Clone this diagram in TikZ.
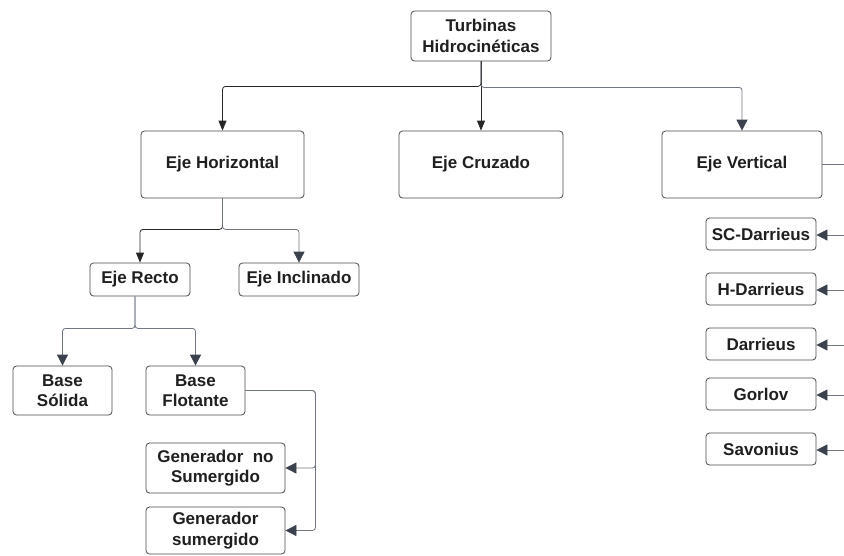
\documentclass[tikz,border=0pt]{standalone}
\usepackage{fontspec}
\setmainfont{Liberation Sans}
\usetikzlibrary{arrows.meta}
\definecolor{boxline}{HTML}{4A4A4A}
\definecolor{linegray}{HTML}{707680}
\definecolor{tipdark}{HTML}{3B424E}
\tikzset{
  box/.style={draw=boxline, line width=0.8pt, rounded corners=3.5pt, align=center,
    font=\fontsize{17}{20.5}\selectfont\bfseries, inner sep=0pt, text=black!88},
  blackconn/.style={draw=black!85, line width=0.8pt, rounded corners=3pt,
    -{Triangle[width=8pt,length=10pt]}},
  grayconn/.style={draw=linegray, line width=0.8pt, rounded corners=3pt,
    -{Triangle[width=11pt,length=11pt,color=tipdark]}},
  plainline/.style={draw=linegray, line width=0.8pt},
}
\begin{document}
\begin{tikzpicture}[x=1pt,y=-1pt]
\useasboundingbox (0,0) rectangle (844,555);
% nodes
\node[box, minimum width=140pt, minimum height=50pt] (T) at (481,36) {Turbinas\\Hidrocinéticas};
\node[box, minimum width=163pt, minimum height=67pt] (EH) at (222.5,164.5) {Eje Horizontal};
\node[box, minimum width=164pt, minimum height=67pt] (EC) at (481,164.5) {Eje Cruzado};
\node[box, minimum width=160pt, minimum height=67pt] (EV) at (742,164.5) {Eje Vertical};
\node[box, minimum width=100pt, minimum height=33pt] (ER) at (140,279.5) {Eje Recto};
\node[box, minimum width=120pt, minimum height=33pt] (EI) at (299,279.5) {Eje Inclinado};
\node[box, minimum width=99pt, minimum height=49pt] (BS) at (62.5,390.5) {Base\\Sólida};
\node[box, minimum width=99pt, minimum height=49pt] (BF) at (195.5,390.5) {Base\\Flotante};
\node[box, minimum width=139pt, minimum height=50pt] (GN) at (215.5,468) {Generador\ \ no\\Sumergido};
\node[box, minimum width=139pt, minimum height=47pt] (GS) at (215.5,530.5) {Generador\\sumergido};
\node[box, minimum width=110pt, minimum height=32pt] (SC) at (761,234) {SC-Darrieus};
\node[box, minimum width=110pt, minimum height=32pt] (HD) at (761,289) {H-Darrieus};
\node[box, minimum width=110pt, minimum height=32pt] (DA) at (761,344) {Darrieus};
\node[box, minimum width=110pt, minimum height=32pt] (GO) at (761,394) {Gorlov};
\node[box, minimum width=110pt, minimum height=32pt] (SA) at (761,449) {Savonius};
% free ends at the right edge
\coordinate (evR) at (844,164.5);
\coordinate (scR) at (844,235);
\coordinate (hdR) at (844,290);
\coordinate (daR) at (844,345);
\coordinate (goR) at (844,395);
\coordinate (saR) at (844,450);
% connectors
\draw[blackconn] (T.south) -- ++(0,25) -| (EH.north);
\draw[blackconn] (T.south) -- (EC.north);
\draw[grayconn] (T.south) -- ++(0,26) -| (EV.north);
\draw[plainline] (EV.east) -- (evR);
\draw[blackconn] (EH.south) -- ++(0,31) -| (ER.north);
\draw[grayconn] (EH.south) -- ++(0,31) -| (EI.north);
\draw[grayconn] ([xshift=-5pt]ER.south) -- ++(0,32) -| (BS.north);
\draw[grayconn] ([xshift=-5pt]ER.south) -- ++(0,32) -| (BF.north);
\draw[grayconn] (BF.east) -- ++(70,0) |- (GN.east);
\draw[grayconn] (BF.east) -- ++(70,0) |- (GS.east);
\draw[grayconn] (scR) -- (SC.east |- scR);
\draw[grayconn] (hdR) -- (HD.east |- hdR);
\draw[grayconn] (daR) -- (DA.east |- daR);
\draw[grayconn] (goR) -- (GO.east |- goR);
\draw[grayconn] (saR) -- (SA.east |- saR);
\end{tikzpicture}
\end{document}
